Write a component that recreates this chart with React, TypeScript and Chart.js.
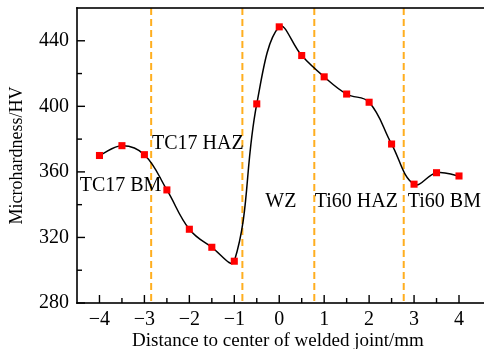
import React, { useEffect, useRef } from 'react';
import { Chart, registerables } from 'chart.js';

Chart.register(...registerables);

const distances = [-4, -3.5, -3, -2.5, -2, -1.5, -1, -0.5, 0, 0.5, 1, 1.5, 2, 2.5, 3, 3.5, 4];
const hardness = [370, 376, 370.5, 349, 325, 314, 305.5, 401.5, 448.5, 431, 418, 407.5, 402.5, 377, 352.5, 359.5, 357.5];
const xTicks = [-4, -3, -2, -1, 0, 1, 2, 3, 4];
const yTicks = [280, 320, 360, 400, 440];
const zoneBoundaries = [-2.85, -0.82, 0.78, 2.77];
const zoneLabels = ['TC17 BM', 'TC17 HAZ', 'WZ', 'Ti60 HAZ', 'Ti60 BM'];
const zoneLabelX = [-4.44, -2.83, -0.31, 0.79, 2.86];
const zoneLabelY = [351.5, 377, 341.5, 341.5, 341.5];

const FONT = '"Liberation Serif", "DejaVu Serif", "Times New Roman", serif';

const decorPlugin = {
  id: 'decor',
  beforeDatasetsDraw(chart: any) {
    const { ctx, chartArea, scales } = chart;
    const x = scales.x;
    ctx.save();
    ctx.strokeStyle = '#FFAE1F';
    ctx.lineWidth = 2;
    ctx.setLineDash([7, 4]);
    for (const b of zoneBoundaries) {
      const px = x.getPixelForValue(b);
      ctx.beginPath();
      ctx.moveTo(px, chartArea.top);
      ctx.lineTo(px, chartArea.bottom);
      ctx.stroke();
    }
    ctx.restore();
  },
  afterDatasetsDraw(chart: any) {
    const { ctx, scales } = chart;
    ctx.save();
    ctx.fillStyle = '#000';
    ctx.font = `20px ${FONT}`;
    ctx.textAlign = 'left';
    ctx.textBaseline = 'middle';
    zoneLabels.forEach((t, i) => {
      ctx.fillText(t, scales.x.getPixelForValue(zoneLabelX[i]), scales.y.getPixelForValue(zoneLabelY[i]));
    });
    ctx.restore();
  },
  afterDraw(chart: any) {
    const { ctx, chartArea, scales } = chart;
    const x = scales.x;
    const y = scales.y;
    const W = ctx.canvas.width;
    const L = chartArea.left;
    const T = chartArea.top;
    const B = chartArea.bottom;
    ctx.save();
    ctx.setLineDash([]);
    ctx.fillStyle = '#000';
    ctx.fillRect(L - 0.8, T - 0.8, 1.6, B - T + 1.6);
    ctx.fillRect(L - 0.8, B - 0.8, W - L + 1, 1.6);
    ctx.fillRect(L - 0.8, T - 0.8, W - L + 1, 1.6);
    const tw = 1.4;
    for (let i = 0; i < xTicks.length; i++) {
      const px = x.getPixelForValue(xTicks[i]);
      ctx.fillRect(px - tw / 2, B - 8, tw, 8);
      const mid = xTicks[i] + 0.5;
      if (mid <= x.max) {
        const pm = x.getPixelForValue(mid);
        ctx.fillRect(pm - tw / 2, B - 5, tw, 5);
      }
    }
    for (let i = 0; i < yTicks.length; i++) {
      const py = y.getPixelForValue(yTicks[i]);
      ctx.fillRect(L, py - tw / 2, 8, tw);
      const mid = yTicks[i] + 20;
      if (mid < y.max) {
        const pm = y.getPixelForValue(mid);
        ctx.fillRect(L, pm - tw / 2, 5, tw);
      }
    }
    ctx.restore();
  },
};

const fmt = (v: number) => String(v).replace('-', '\u2212');

export default function App() {
  const ref = useRef<HTMLCanvasElement | null>(null);
  useEffect(() => {
    if (!ref.current) return;
    const chart = new Chart(ref.current, {
      type: 'line',
      data: {
        datasets: [
          {
            data: distances.map((d, i) => ({ x: d, y: hardness[i] })),
            borderColor: '#000',
            borderWidth: 1.5,
            tension: 0.4,
            pointStyle: 'rect',
            pointRadius: 5,
            pointBackgroundColor: '#FF0000',
            pointBorderColor: '#FF0000',
            pointBorderWidth: 0,
            fill: false,
          },
        ],
      },
      options: {
        responsive: false,
        animation: false,
        events: [],
        layout: { padding: { top: 8, right: 0, left: 0, bottom: 0 } },
        plugins: { legend: { display: false }, tooltip: { enabled: false } },
        scales: {
          x: {
            type: 'linear',
            min: -4.5,
            max: 4.445,
            border: { display: false },
            grid: { display: false, drawTicks: false },
            afterBuildTicks: (s: any) => {
              s.ticks = xTicks.map((v) => ({ value: v }));
            },
            afterFit: (s: any) => {
              s.height = 46;
              s.paddingLeft = 0;
              s.paddingRight = 0;
            },
            ticks: {
              padding: 5,
              maxRotation: 0,
              autoSkip: false,
              color: '#000',
              font: { family: FONT, size: 20 },
              callback: (v: any) => fmt(Number(v)),
            },
            title: {
              display: true,
              text: 'Distance to center of welded joint/mm',
              color: '#000',
              font: { family: FONT, size: 19, lineHeight: 0.85 },
              padding: { top: 0, bottom: 0 },
            },
          },
          y: {
            type: 'linear',
            min: 280,
            max: 460,
            border: { display: false },
            grid: { display: false, drawTicks: false },
            afterBuildTicks: (s: any) => {
              s.ticks = yTicks.map((v) => ({ value: v }));
            },
            afterFit: (s: any) => {
              s.width = 77;
              s.paddingTop = 0;
              s.paddingBottom = 0;
            },
            ticks: {
              padding: 8,
              color: '#000',
              font: { family: FONT, size: 20 },
              callback: (v: any) => fmt(Number(v)),
            },
            title: {
              display: true,
              text: 'Microhardness/HV',
              color: '#000',
              font: { family: FONT, size: 18 },
              padding: { top: 6, bottom: 0 },
            },
          },
        },
      },
      plugins: [decorPlugin],
    } as any);
    return () => chart.destroy();
  }, []);
  return (
    <div style={{ position: 'fixed', left: 0, top: 0, width: 484, height: 349, background: '#fff' }}>
      <canvas ref={ref} width={484} height={349} style={{ display: 'block', width: 484, height: 349 }} />
    </div>
  );
}
